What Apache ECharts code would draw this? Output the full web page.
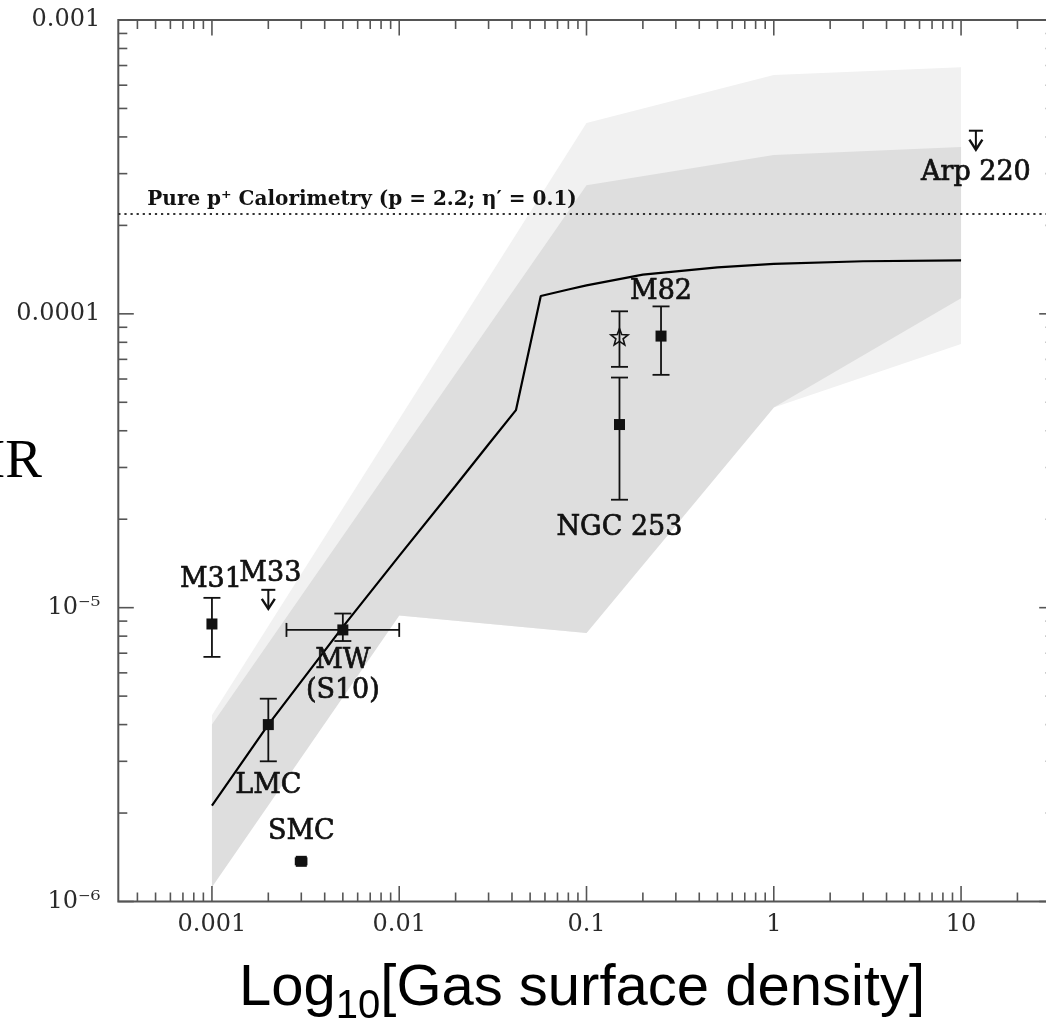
<!DOCTYPE html>
<html>
<head>
<meta charset="utf-8">
<script src="https://cdn.jsdelivr.net/npm/echarts@6/dist/echarts.min.js"></script>
<style>
  html, body { margin: 0; padding: 0; background: #fff; }
  #chart { width: 1046px; height: 1026px; }
</style>
</head>
<body>
<div id="chart"></div>
<script>
// ---------------- data ----------------
// Axis tick labels (decades)
const xTickValues = [0.001, 0.01, 0.1, 1, 10];
const xTickLabels = ['0.001', '0.01', '0.1', '1', '10'];
const yTickValues = [1e-6, 1e-5, 1e-4, 1e-3];
const yTickLabels = ['10⁻⁶', '10⁻⁵', '0.0001', '0.001'];

// Model prediction (solid curve)
const modelX = [0.001, 0.002, 0.005, 0.01, 0.02, 0.03, 0.042, 0.057, 0.08, 0.1, 0.2, 0.5, 1, 3, 10];
const modelY = [2.12e-6, 4.0e-6, 8.6e-6, 1.5e-5, 2.6e-5, 3.6e-5, 4.7e-5, 1.15e-4, 1.21e-4, 1.25e-4, 1.36e-4, 1.44e-4, 1.48e-4, 1.51e-4, 1.52e-4];

// Outer (light) range: upper edge and lower edge, left to right
const outerUpperX = [0.001, 0.1, 1, 10];
const outerUpperY = [4.3e-6, 4.46e-4, 6.5e-4, 6.9e-4];
const outerLowerX = [0.001, 0.01, 0.1, 1, 10];
const outerLowerY = [1.12e-6, 9.4e-6, 8.2e-6, 4.8e-5, 7.9e-5];

// Inner (darker) range
const innerUpperX = [0.001, 0.1, 1, 10];
const innerUpperY = [4.0e-6, 2.74e-4, 3.47e-4, 3.7e-4];
const innerLowerX = [0.001, 0.01, 0.1, 1, 10];
const innerLowerY = [1.12e-6, 9.4e-6, 8.2e-6, 4.8e-5, 1.13e-4];

// Pure proton calorimetry level (dotted line)
const calorimetryLevel = 2.17e-4;

// Measured galaxies
const pointNames   = ['M31', 'LMC', 'SMC', 'MW', 'NGC 253', 'NGC 253', 'M82'];
const pointSymbols = ['square', 'square', 'square', 'square', 'star', 'square', 'square'];
const pointX     = [0.001, 0.002, 0.003, 0.005, 0.15, 0.15, 0.25];
const pointXLow  = [0.001, 0.002, 0.0028, 0.0025, 0.15, 0.15, 0.25];
const pointXHigh = [0.001, 0.002, 0.0032, 0.01, 0.15, 0.15, 0.25];
const pointY     = [8.8e-6, 4.0e-6, 1.37e-6, 8.4e-6, 8.3e-5, 4.2e-5, 8.4e-5];
const pointYLow  = [6.8e-6, 3.0e-6, 1.37e-6, 7.7e-6, 6.6e-5, 2.33e-5, 6.2e-5];
const pointYHigh = [1.08e-5, 4.9e-6, 1.37e-6, 9.55e-6, 1.02e-4, 6.07e-5, 1.06e-4];

// Upper limits
const limitNames = ['M33', 'Arp 220'];
const limitX = [0.002, 12];
const limitY = [1.15e-5, 4.2e-4];

// Names written next to the measurements
const labelTexts = ['M31', 'M33', 'MW', '(S10)', 'LMC', 'SMC', 'NGC 253', 'M82', 'Arp 220'];
const calorimetryText = 'Pure p⁺ Calorimetry (p = 2.2; η′ = 0.1)';

// ---------------- layout / style ----------------
const X_MIN = -3.5, X_MAX = 1.5, Y_MIN = -6, Y_MAX = -3;
const GRID = { left: 118.3, top: 20, width: 936.4, height: 881.5 };
const INK = '#111';
const FRAME = '#555';
const LABEL_FONT = '27px "DejaVu Serif", serif';
const NOTE_FONT = 'bold 20px "DejaVu Serif", serif';
const TICK_FONT = '"DejaVu Serif", serif';

// label anchors: which measurement each name belongs to, plus pixel offset of its centre
const LABEL_LAYOUT = [
  { src: 'point', i: 0, dx: -1, dy: -44 },
  { src: 'limit', i: 0, dx: 2, dy: -16 },
  { src: 'point', i: 3, dx: 0, dy: 31.5 },
  { src: 'point', i: 3, dx: 0, dy: 61 },
  { src: 'point', i: 1, dx: 0, dy: 61.5 },
  { src: 'point', i: 2, dx: 0, dy: -29 },
  { src: 'point', i: 5, dx: 0, dy: 103 },
  { src: 'point', i: 6, dx: 0, dy: -44.5 },
  { src: 'limit', i: 1, dx: 0, dy: 42.7 }
];

const L = Math.log10;
const toXY = (xs, ys) => xs.map((x, i) => [L(x), L(ys[i])]);

function bandPolygon(ux, uy, lx, ly) {
  return toXY(ux, uy).concat(toXY(lx, ly).reverse());
}
const outerPoly = bandPolygon(outerUpperX, outerUpperY, outerLowerX, outerLowerY);
const innerPoly = bandPolygon(innerUpperX, innerUpperY, innerLowerX, innerLowerY);

function tickLabel(v, values, labels) {
  for (let k = 0; k < values.length; k++) {
    if (Math.abs(L(values[k]) - v) < 1e-6) return labels[k];
  }
  return '';
}

function seg(x1, y1, x2, y2, color, w) {
  return { type: 'line', shape: { x1, y1, x2, y2 }, style: { stroke: color || INK, lineWidth: w || 1.8 } };
}

// ---------------- renderers ----------------
function renderBands(params, api) {
  return {
    type: 'group',
    children: [
      { type: 'polygon', shape: { points: outerPoly.map(p => api.coord(p)) }, style: { fill: '#f1f1f1' } },
      { type: 'polygon', shape: { points: innerPoly.map(p => api.coord(p)) }, style: { fill: '#dedede' } }
    ]
  };
}

function renderTicks(params, api) {
  const cs = params.coordSys;
  const left = cs.x, right = cs.x + cs.width, top = cs.y, bottom = cs.y + cs.height;
  const children = [];
  const MAJOR = 15.5, MINOR = 9;
  for (let d = -4; d <= 1; d++) {
    for (let m = 1; m <= 9; m++) {
      const v = d + L(m);
      if (v <= X_MIN + 1e-9 || v >= X_MAX - 1e-9) continue;
      const px = api.coord([v, Y_MIN])[0];
      const len = m === 1 ? MAJOR : MINOR;
      children.push(seg(px, bottom, px, bottom - len, FRAME, 1.6));
      children.push(seg(px, top, px, top + len, FRAME, 1.6));
    }
  }
  for (let d = -6; d <= -3; d++) {
    for (let m = 1; m <= 9; m++) {
      const v = d + L(m);
      if (v < Y_MIN - 1e-9 || v > Y_MAX + 1e-9) continue;
      const py = api.coord([X_MIN, v])[1];
      const len = m === 1 ? MAJOR : MINOR;
      children.push(seg(left, py, left + len, py, FRAME, 1.6));
      children.push(seg(right, py, right - len, py, FRAME, 1.6));
    }
  }
  return { type: 'group', children };
}

function starPoints(cx, cy, ro, ri) {
  const pts = [];
  for (let k = 0; k < 10; k++) {
    const a = -Math.PI / 2 + k * Math.PI / 5;
    const r = k % 2 ? ri : ro;
    pts.push([cx + r * Math.cos(a), cy + r * Math.sin(a)]);
  }
  return pts;
}

function renderPoint(params, api) {
  const x = api.value(0), y = api.value(1);
  const yLo = api.value(2), yHi = api.value(3), xLo = api.value(4), xHi = api.value(5);
  const sym = pointSymbols[api.value(6)];
  const c = api.coord([x, y]);
  const children = [];
  const CAP = 8.5;
  if (yHi - yLo > 1e-9) {
    const lo = api.coord([x, yLo]), hi = api.coord([x, yHi]);
    children.push(seg(c[0], lo[1], c[0], hi[1]));
    children.push(seg(c[0] - CAP, lo[1], c[0] + CAP, lo[1]));
    children.push(seg(c[0] - CAP, hi[1], c[0] + CAP, hi[1]));
  }
  if (xHi - xLo > 1e-9) {
    const lo = api.coord([xLo, y]), hi = api.coord([xHi, y]);
    const capH = (xHi - xLo) > 0.2 ? 7 : 4;
    children.push(seg(lo[0], c[1], hi[0], c[1], INK, capH === 4 ? 5 : 1.8));
    children.push(seg(lo[0], c[1] - capH, lo[0], c[1] + capH));
    children.push(seg(hi[0], c[1] - capH, hi[0], c[1] + capH));
  }
  if (sym === 'star') {
    children.push({ type: 'polygon', shape: { points: starPoints(c[0], c[1], 9, 3.8) },
      style: { fill: 'none', stroke: INK, lineWidth: 1.6 } });
  } else {
    const s = 11;
    children.push({ type: 'rect', shape: { x: c[0] - s / 2, y: c[1] - s / 2, width: s, height: s }, style: { fill: INK } });
  }
  return { type: 'group', children };
}

function renderLimit(params, api) {
  const c = api.coord([api.value(0), api.value(1)]);
  const BAR = 7, LEN = 19, HEAD_W = 6.5, HEAD_H = 10;
  return {
    type: 'group',
    children: [
      seg(c[0] - BAR, c[1], c[0] + BAR, c[1], INK, 2),
      seg(c[0], c[1], c[0], c[1] + LEN, INK, 2),
      { type: 'polyline', shape: { points: [[c[0] - HEAD_W, c[1] + LEN - HEAD_H], [c[0], c[1] + LEN], [c[0] + HEAD_W, c[1] + LEN - HEAD_H]] },
        style: { stroke: INK, lineWidth: 2.4, fill: 'none' } }
    ]
  };
}

function labelText(x, y, text, font, align, weight) {
  return {
    type: 'text', x, y,
    style: { text, font, fill: INK, stroke: INK, lineWidth: weight || 0, align: align || 'center', verticalAlign: 'middle' }
  };
}

function renderLabel(params, api) {
  const k = api.value(2);
  const c = api.coord([api.value(0), api.value(1)]);
  const lay = LABEL_LAYOUT[k];
  return labelText(c[0] + lay.dx, c[1] + lay.dy, labelTexts[k], LABEL_FONT, 'center', 0.7);
}

function renderNote(params, api) {
  const c = api.coord([api.value(0), api.value(1)]);
  return labelText(c[0] + 29, c[1] - 15, calorimetryText, NOTE_FONT, 'left', 0);
}

// ---------------- series data ----------------
const pointData = pointX.map((x, i) => [L(x), L(pointY[i]), L(pointYLow[i]), L(pointYHigh[i]), L(pointXLow[i]), L(pointXHigh[i]), i]);
const limitData = limitX.map((x, i) => [L(x), L(limitY[i]), i]);
const labelData = LABEL_LAYOUT.map((lay, k) => {
  const x = lay.src === 'point' ? pointX[lay.i] : limitX[lay.i];
  const y = lay.src === 'point' ? pointY[lay.i] : limitY[lay.i];
  return [L(x), L(y), k];
});

// ---------------- axis title metrics ----------------
const measureCtx = document.createElement('canvas').getContext('2d');
function textWidth(str, font) { measureCtx.font = font; return measureCtx.measureText(str).width; }
const TITLE_MAIN = '58px "Liberation Sans", Arial, sans-serif';
const TITLE_SUB = '40px "Liberation Sans", Arial, sans-serif';
const TITLE_X = 239;
const wLog = textWidth('Log', TITLE_MAIN);
const wSub = textWidth('10', TITLE_SUB);

const chart = echarts.init(document.getElementById('chart'), null, { renderer: 'canvas' });

chart.setOption({
  animation: false,
  backgroundColor: '#fff',
  grid: Object.assign({ show: true, borderColor: FRAME, borderWidth: 2, backgroundColor: 'transparent',
    containLabel: false, outerBoundsMode: 'none' }, GRID),
  xAxis: {
    type: 'value', min: X_MIN, max: X_MAX, interval: 0.5,
    axisLine: { show: false }, axisTick: { show: false }, splitLine: { show: false },
    axisLabel: {
      formatter: v => tickLabel(v, xTickValues, xTickLabels),
      margin: 11, color: '#2a2a2a', fontFamily: TICK_FONT, fontSize: 24
    }
  },
  yAxis: {
    type: 'value', min: Y_MIN, max: Y_MAX, interval: 1,
    axisLine: { show: false }, axisTick: { show: false }, splitLine: { show: false },
    axisLabel: {
      formatter: v => tickLabel(v, yTickValues, yTickLabels),
      margin: 18, color: '#2a2a2a', fontFamily: TICK_FONT, fontSize: 24
    }
  },
  graphic: [
    { type: 'text', x: TITLE_X, y: 989, style: { text: 'Log', font: TITLE_MAIN, fill: '#000', verticalAlign: 'middle' } },
    { type: 'text', x: TITLE_X + wLog, y: 1007, style: { text: '10', font: TITLE_SUB, fill: '#000', verticalAlign: 'middle' } },
    { type: 'text', x: TITLE_X + wLog + wSub, y: 989, style: { text: '[Gas surface density]', font: TITLE_MAIN, fill: '#000', verticalAlign: 'middle' } },
    { type: 'text', x: 42, y: 463, style: { text: 'IR', font: '55px "Liberation Serif", serif', fill: '#000', align: 'right', verticalAlign: 'middle' } }
  ],
  series: [
    { type: 'custom', name: 'range', renderItem: renderBands, data: [[X_MIN, Y_MIN]], z: 1, silent: true },
    {
      type: 'line', name: 'model', data: toXY(modelX, modelY), showSymbol: false, z: 3, silent: true,
      lineStyle: { color: '#000', width: 2.2 },
      markLine: {
        silent: true, symbol: 'none', label: { show: false },
        lineStyle: { color: '#333', width: 2.2, type: [2.2, 3.9] },
        data: [{ yAxis: L(calorimetryLevel) }]
      }
    },
    { type: 'custom', name: 'galaxies', renderItem: renderPoint, data: pointData, z: 4, silent: true },
    { type: 'custom', name: 'limits', renderItem: renderLimit, data: limitData, z: 4, silent: true },
    { type: 'custom', name: 'names', renderItem: renderLabel, data: labelData, z: 5, silent: true },
    { type: 'custom', name: 'note', renderItem: renderNote, data: [[X_MIN, L(calorimetryLevel)]], z: 5, silent: true },
    { type: 'custom', name: 'ticks', renderItem: renderTicks, data: [[X_MIN, Y_MIN]], z: 6, silent: true }
  ]
});
</script>
</body>
</html>
